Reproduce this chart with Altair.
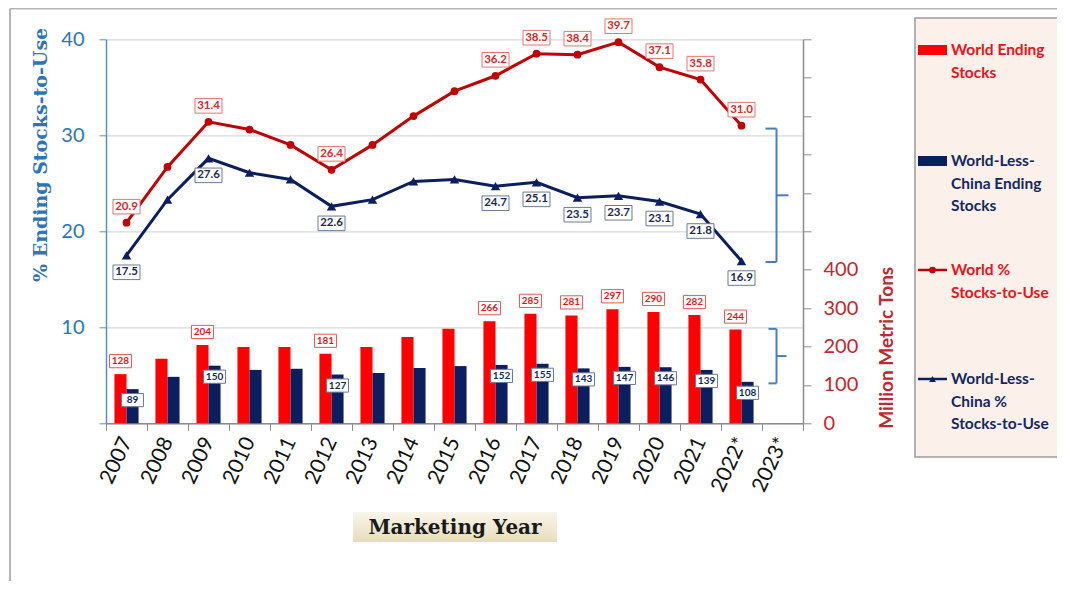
import altair as alt
import pandas as pd

# ---------------- data ----------------
years = ["2007", "2008", "2009", "2010", "2011", "2012", "2013", "2014", "2015",
         "2016", "2017", "2018", "2019", "2020", "2021", "2022*", "2023*"]
data_years = years[:16]

world_stocks = [128, 168, 204, 199, 199, 181, 199, 225, 246, 266, 285, 281, 297, 290, 282, 244]
wlc_stocks = [89, 121, 150, 139, 142, 127, 131, 144, 149, 152, 155, 143, 147, 146, 139, 108]
world_pct = [20.9, 26.7, 31.4, 30.6, 29.0, 26.4, 29.0, 32.0, 34.6, 36.2, 38.5, 38.4, 39.7, 37.1, 35.8, 31.0]
wlc_pct = [17.5, 23.3, 27.6, 26.1, 25.4, 22.6, 23.3, 25.2, 25.4, 24.7, 25.1, 23.5, 23.7, 23.1, 21.8, 16.9]

label_years = ["2007", "2009", "2012", "2016", "2017", "2018", "2019", "2020", "2021", "2022*"]

bracket_pct = [16.8, 30.7]     # bracket beside the stocks-to-use lines
bracket_mmt = [104, 246]       # bracket beside the ending-stocks bars

legend_items = [
    ("bar", "#FF0000", "#E8141B", ["World Ending", "Stocks"]),
    ("bar", "#0B1F5E", "#14285E", ["World-Less-", "China Ending", "Stocks"]),
    ("circle", "#C00000", "#E8141B", ["World %", "Stocks-to-Use"]),
    ("triangle-up", "#0B1F5E", "#14285E", ["World-Less-", "China %", "Stocks-to-Use"]),
]

# ---------------- tables ----------------
bars_df = pd.DataFrame({
    "year": data_years * 2,
    "series": ["World"] * 16 + ["WLC"] * 16,
    "value": world_stocks + wlc_stocks,
})
bars_df["lab"] = bars_df["year"].isin(label_years)

world_df = pd.DataFrame({"year": data_years, "value": world_pct})
world_df["lab"] = world_df["year"].isin(label_years)
wlc_df = pd.DataFrame({"year": data_years, "value": wlc_pct})
wlc_df["lab"] = wlc_df["year"].isin(label_years)

W, H = 697, 384
FONT = "Lato"

X = alt.X("year:N",
          scale=alt.Scale(domain=years, paddingInner=0, paddingOuter=0),
          axis=alt.Axis(labelAngle=295, labelAlign="right", labelBaseline="middle",
                        labelFont=FONT, labelFontSize=21, labelColor="#111111",
                        labelPadding=8, tickBand="extent", tickColor="#8c8c8c",
                        tickSize=7, domainColor="#8c8c8c", domainWidth=1.5,
                        grid=False, title=None))
X2 = alt.X2("year:N")

XOFF = alt.XOffset("series:N", scale=alt.Scale(domain=["World", "WLC"],
                                               paddingInner=0, paddingOuter=0.7))

mmt_axis = alt.Axis(orient="right", values=list(range(0, 1001, 100)),
                    labelExpr="datum.value <= 400 ? datum.label : ''",
                    grid=False, domainColor="#8c8c8c", domainWidth=1.5,
                    tickColor="#8c8c8c", tickSize=8,
                    labelColor="#C0282D", labelFont=FONT, labelFontSize=20,
                    labelPadding=12,
                    title="Million Metric Tons", titleColor="#C0282D", titleFont=FONT,
                    titleFontSize=19, titleFontWeight="bold", titleAngle=270,
                    titleAlign="left", titleBaseline="middle", titleX=84, titleY=H + 5)
mmt_scale = alt.Scale(domain=[0, 1000], nice=False, zero=True)

pct_axis = alt.Axis(orient="left", values=[0, 10, 20, 30, 40],
                    labelExpr="datum.value > 0 ? datum.label : ''",
                    grid=True, gridColor="#D9D9D9", gridWidth=1.2,
                    domainColor="#5B8FC8", domainWidth=1.5, tickColor="#5B8FC8",
                    tickSize=7, labelColor="#2E75B6", labelFont=FONT,
                    labelFontSize=20, labelPadding=15,
                    title="% Ending Stocks-to-Use", titleColor="#2E75B6",
                    titleFont="DejaVu Serif", titleFontSize=19, titleFontWeight="bold",
                    titleAngle=270, titleAlign="right", titleBaseline="middle",
                    titleX=-66, titleY=-12)
pct_scale = alt.Scale(domain=[0, 40], nice=False, zero=True)


def ymmt(field):
    return alt.Y(field, scale=mmt_scale, axis=mmt_axis)


def ypct(field):
    return alt.Y(field, scale=pct_scale, axis=pct_axis)


BOX_LINE = "M-1,-0.54H1V0.54H-1Z"
BOX_BAR = "M-1,-0.6H1V0.6H-1Z"

# ---------------- bars group (right axis) ----------------
bars = alt.Chart(bars_df).mark_bar().encode(
    x=X, xOffset=XOFF, y=ymmt("value:Q"),
    color=alt.Color("series:N", scale=alt.Scale(domain=["World", "WLC"],
                                                range=["#FF0000", "#0B1F5E"]),
                    legend=None),
)

bar_label_layers = []
for ser, off, stroke, tcol in [("World", -13, "#EE5555", "#E8141B"),
                               ("WLC", 11, "#6A7896", "#14285E")]:
    sub = alt.Chart(bars_df).transform_filter(
        (alt.datum.series == ser) & (alt.datum.lab == True))
    box = sub.mark_point(shape=BOX_BAR, size=484, filled=True, fill="white",
                         stroke=stroke, strokeWidth=1, opacity=1, yOffset=off).encode(
        x=X, xOffset=XOFF, y=ymmt("value:Q"))
    txt = sub.mark_text(yOffset=off, color=tcol, font=FONT, fontSize=10,
                        fontWeight="bold", baseline="middle").encode(
        x=X, xOffset=XOFF, y=ymmt("value:Q"), text=alt.Text("value:Q", format="d"))
    bar_label_layers += [box, txt]

brk_mmt_df = pd.DataFrame({"year": ["2023*"], "lo": [bracket_mmt[0]], "hi": [bracket_mmt[1]]})
brk_mmt_df["mid"] = (brk_mmt_df["lo"] + brk_mmt_df["hi"]) / 2
BRK = "#4A7EBB"
bm = alt.Chart(brk_mmt_df)
brk_mmt = [
    bm.mark_rule(color=BRK, strokeWidth=2, xOffset=-6).encode(x=X, y=ymmt("lo:Q"), y2="hi:Q"),
    bm.mark_rule(color=BRK, strokeWidth=2, xOffset=-14, x2Offset=-6).encode(x=X, x2=X2, y=ymmt("hi:Q")),
    bm.mark_rule(color=BRK, strokeWidth=2, xOffset=-14, x2Offset=-6).encode(x=X, x2=X2, y=ymmt("lo:Q")),
    bm.mark_rule(color=BRK, strokeWidth=2, xOffset=-6, x2Offset=4).encode(x=X, x2=X2, y=ymmt("mid:Q")),
]

mmt_group = alt.layer(bars, *bar_label_layers, *brk_mmt).resolve_scale(y="shared")

# ---------------- lines group (left axis) ----------------
line_layers = []
for df, lcol, shape, psize, off, stroke, tcol in [
        (world_df, "#C00000", "circle", 60, -16, "#E57373", "#D42A2A"),
        (wlc_df, "#0B1F5E", "triangle-up", 90, 17, "#6A7896", "#1B2A4E")]:
    base = alt.Chart(df)
    ln = base.mark_line(color=lcol, strokeWidth=3).encode(x=X, y=ypct("value:Q"))
    pt = base.mark_point(shape=shape, size=psize, filled=True, color=lcol, opacity=1).encode(
        x=X, y=ypct("value:Q"))
    sub = base.transform_filter(alt.datum.lab == True)
    box = sub.mark_point(shape=BOX_LINE, size=729, filled=True, fill="white",
                         stroke=stroke, strokeWidth=1, opacity=1, yOffset=off).encode(
        x=X, y=ypct("value:Q"))
    txt = sub.mark_text(yOffset=off, color=tcol, font=FONT, fontSize=11.5,
                        fontWeight="bold", baseline="middle").encode(
        x=X, y=ypct("value:Q"), text=alt.Text("value:Q", format=".1f"))
    line_layers += [ln, pt, box, txt]

brk_pct_df = pd.DataFrame({"year": ["2023*"], "lo": [bracket_pct[0]], "hi": [bracket_pct[1]]})
brk_pct_df["mid"] = (brk_pct_df["lo"] + brk_pct_df["hi"]) / 2
bp = alt.Chart(brk_pct_df)
brk_pct = [
    bp.mark_rule(color=BRK, strokeWidth=2, xOffset=-6).encode(x=X, y=ypct("lo:Q"), y2="hi:Q"),
    bp.mark_rule(color=BRK, strokeWidth=2, xOffset=-17, x2Offset=-6).encode(x=X, x2=X2, y=ypct("hi:Q")),
    bp.mark_rule(color=BRK, strokeWidth=2, xOffset=-17, x2Offset=-6).encode(x=X, x2=X2, y=ypct("lo:Q")),
    bp.mark_rule(color=BRK, strokeWidth=2, xOffset=-6, x2Offset=6).encode(x=X, x2=X2, y=ypct("mid:Q")),
]

pct_group = alt.layer(*line_layers, *brk_pct).resolve_scale(y="shared")

# ---------------- decorations (frame, x title, legend) ----------------
one = pd.DataFrame({"a": [0]})
dec = alt.Chart(one)
OX, OY = 106, 39.3  # page position of plot origin

decor = []
# outer frame of the slide picture
decor.append(dec.mark_rule(color="#B5B5B5", strokeWidth=2).encode(
    x=alt.value(10 - OX), x2=alt.value(1100), y=alt.value(8.5 - OY)))
decor.append(dec.mark_rule(color="#B5B5B5", strokeWidth=2).encode(
    x=alt.value(10 - OX), y=alt.value(8.5 - OY), y2=alt.value(600)))

# "Marketing Year" boxed title
grad = alt.LinearGradient(gradient="linear",
                          stops=[alt.GradientStop(offset=0, color="#F9F5EA"),
                                 alt.GradientStop(offset=1, color="#E7DCBC")],
                          x1=0, x2=0, y1=0, y2=1)
decor.append(dec.mark_rect(fill=grad).encode(
    x=alt.value(353 - OX), x2=alt.value(557 - OX),
    y=alt.value(512 - OY), y2=alt.value(542 - OY)))
decor.append(dec.mark_text(text="Marketing Year", font="DejaVu Serif", fontSize=20,
                           fontWeight="bold", color="#1a1a1a", align="center",
                           baseline="middle").encode(
    x=alt.value(455 - OX), y=alt.value(528 - OY)))

# legend
decor.append(dec.mark_rect(fill="#FCF0EA", stroke="#9A9A9A", strokeWidth=1.5).encode(
    x=alt.value(915 - OX), x2=alt.value(1200),
    y=alt.value(18 - OY), y2=alt.value(457 - OY)))
item_tops = [50, 161, 270, 379]
LINE_H = 22.7
for (kind, scol, tcol, lines), top in zip(legend_items, item_tops):
    if kind == "bar":
        decor.append(dec.mark_rect(color=scol).encode(
            x=alt.value(918 - OX), x2=alt.value(947 - OX),
            y=alt.value(top - 5 - OY), y2=alt.value(top + 5 - OY)))
    else:
        decor.append(dec.mark_rule(color=scol, strokeWidth=2.5).encode(
            x=alt.value(918 - OX), x2=alt.value(947 - OX), y=alt.value(top - OY)))
        decor.append(dec.mark_point(shape=kind, size=45, filled=True, color=scol,
                                    opacity=1).encode(
            x=alt.value(932.5 - OX), y=alt.value(top - OY)))
    for i, t in enumerate(lines):
        decor.append(dec.mark_text(text=t, font=FONT, fontSize=15.5, fontWeight="bold",
                                   color=tcol, align="left", baseline="middle").encode(
            x=alt.value(951 - OX), y=alt.value(top + i * LINE_H - OY)))

chart = alt.layer(mmt_group, pct_group, *decor).resolve_scale(y="independent").properties(
    width=W, height=H,
    autosize=alt.AutoSizeParams(type="none"),
    padding={"left": 98, "top": 31.3, "right": 254, "bottom": 158},
    background="white",
).configure_view(strokeWidth=0)

chart.save("out.html", embed_options={"renderer": "svg", "actions": False})
